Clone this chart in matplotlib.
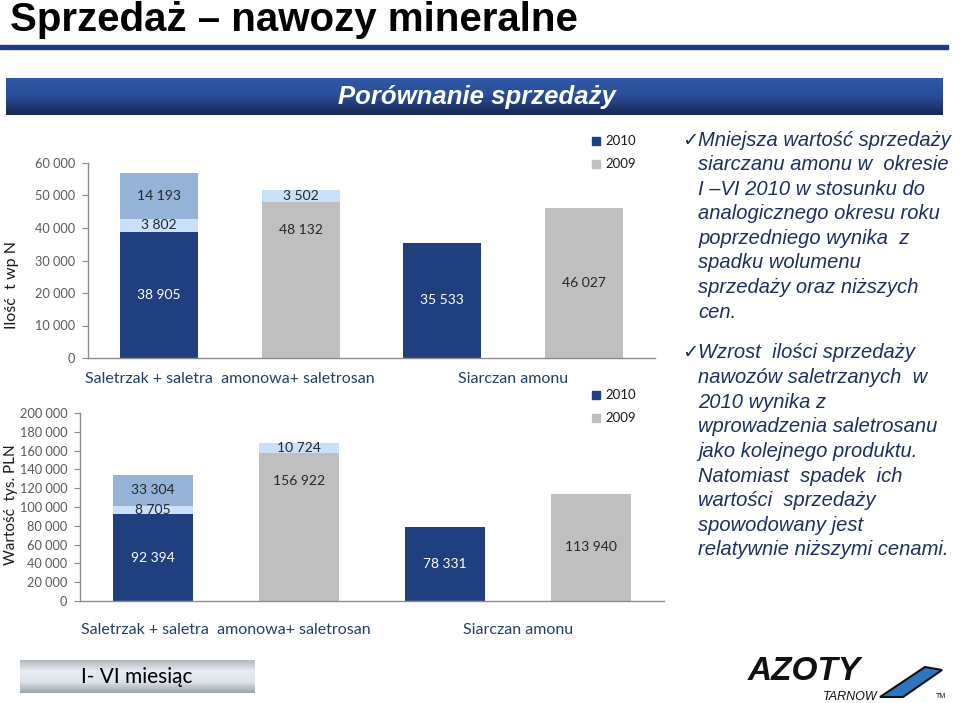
import numpy as np
import matplotlib.pyplot as plt
from matplotlib.patches import Rectangle, Polygon
from matplotlib.colors import LinearSegmentedColormap
from matplotlib.ticker import FuncFormatter, MultipleLocator

# kategorie i lata
kategorie = ['Saletrzak + saletra  amonowa+ saletrosan', 'Siarczan amonu']
lata = ['2010', '2009']

# słupki: saletrzak 2010, saletrzak 2009, siarczan 2010, siarczan 2009
ilosc_baza = [38905, 48132, 35533, 46027]
ilosc_dodatek = [3802, 3502, 0, 0]
ilosc_saletrosan = [14193, 0, 0, 0]

wartosc_baza = [92394, 156922, 78331, 113940]
wartosc_dodatek = [8705, 10724, 0, 0]
wartosc_saletrosan = [33304, 0, 0, 0]

tekst_1 = ['Mniejsza wartość sprzedaży', 'siarczanu amonu w  okresie',
           'I –VI 2010 w stosunku do', 'analogicznego okresu roku',
           'poprzedniego wynika  z', 'spadku wolumenu',
           'sprzedaży oraz niższych', 'cen.']
tekst_2 = ['Wzrost  ilości sprzedaży', 'nawozów saletrzanych  w',
           '2010 wynika z', 'wprowadzenia saletrosanu',
           'jako kolejnego produktu.', 'Natomiast  spadek  ich',
           'wartości  sprzedaży', 'spowodowany jest',
           'relatywnie niższymi cenami.']

GRANAT = '#1F3F7F'
SZARY = '#BFBFBF'
JASNY = '#C9E1F8'
SREDNI = '#95B3D7'
TEKST = '#1C2F5E'
SANS = ['Lato', 'DejaVu Sans']
ARIAL = ['Liberation Sans', 'DejaVu Sans']

fig = plt.figure(figsize=(9.6, 7.03), dpi=100)
bg = fig.add_axes([0, 0, 1, 1])
bg.set_xlim(0, 960)
bg.set_ylim(703, 0)
bg.axis('off')

# tytuł
bg.text(10, 20, 'Sprzedaż – nawozy mineralne', fontsize=29, fontweight='bold',
        family=ARIAL, va='center', ha='left', color='black')
bg.add_patch(Rectangle((0, 45), 948, 4, color='#1F3A8A'))

# pasek nagłówka
cm_bar = LinearSegmentedColormap.from_list('bar', ['#3059A8', '#2A4C96', '#17274F'])
grad = np.linspace(0, 1, 64).reshape(-1, 1)
bg.imshow(grad, extent=(6, 943, 115, 78), aspect='auto', cmap=cm_bar, zorder=1)
bg.text(477, 97, 'Porównanie sprzedaży', color='white', fontsize=18.5,
        fontstyle='italic', fontweight='bold', family=ARIAL,
        ha='center', va='center', zorder=2)

# tekst po prawej
for lines, y0 in [(tekst_1, 140), (tekst_2, 353)]:
    bg.text(682, y0, '✓', fontsize=14, color=TEKST, family=['DejaVu Sans'],
            ha='left', va='center', fontweight='bold')
    for i, line in enumerate(lines):
        bg.text(698, y0 + i * 24.6, line, fontsize=14.5, fontstyle='italic',
                family=ARIAL, color=TEKST, ha='left', va='center')

# etykiety osi
bg.text(12, 285, 'Ilość  t wp N', rotation=90, fontsize=11.5, family=SANS,
        color='#1a1a1a', ha='center', va='center')
bg.text(11, 505, 'Wartość  tys. PLN', rotation=90, fontsize=11, family=SANS,
        color='#1a1a1a', ha='center', va='center')

# legendy
for y0 in [141, 395]:
    for j, (lab, col) in enumerate(zip(lata, [GRANAT, SZARY])):
        yy = y0 + j * 22.5
        bg.add_patch(Rectangle((592, yy - 4), 8, 8, color=col))
        bg.text(605, yy, lab, fontsize=9.5, family=SANS, color='#1a1a1a',
                ha='left', va='center')

# pole "I- VI miesiąc"
cm_box = LinearSegmentedColormap.from_list('box', ['#B4B9BF', '#E6ECF2', '#DCE3EA', '#9EA4AA'])
bg.imshow(grad, extent=(20, 255, 693, 660), aspect='auto', cmap=cm_box, zorder=1)
bg.text(137, 677, 'I- VI miesiąc', fontsize=15, family=SANS, color='black',
        ha='center', va='center', zorder=2)

# logo
bg.text(748, 672, 'AZOTY', fontsize=24, fontweight='bold', fontstyle='italic',
        family=ARIAL, color='#111111', ha='left', va='center')
bg.text(878, 697, 'TARNOW', fontsize=9, fontstyle='italic', family=ARIAL,
        color='#111111', ha='right', va='center')
bg.add_patch(Polygon([(880, 697), (925, 667), (942, 670), (903, 697)],
                     closed=True, facecolor='#2E75C0', edgecolor='#111111', lw=1.5))
bg.text(936, 696, 'TM', fontsize=5, family=ARIAL, color='#111111', va='center')


def fmt(v, p):
    return f'{int(v):,}'.replace(',', ' ')


def draw_chart(ax, baza, dodatek, saletrosan, ymax, step, cat_y):
    x = np.arange(len(baza))
    kolory = [GRANAT, SZARY, GRANAT, SZARY]
    w = 0.55
    ax.bar(x, baza, width=w, color=kolory, zorder=2)
    ax.bar(x, dodatek, width=w, bottom=baza, color=JASNY, zorder=2)
    ax.bar(x, saletrosan, width=w, bottom=np.add(baza, dodatek), color=SREDNI, zorder=2)
    fs = 10
    for i in x:
        kol = 'white' if kolory[i] == GRANAT else '#262626'
        if dodatek[i] > 0 and saletrosan[i] == 0:
            ax.annotate(fmt(baza[i], None), (i, baza[i]), xytext=(0, -28),
                        textcoords='offset pixels', ha='center', va='center',
                        fontsize=fs, family=SANS, color=kol, zorder=3)
        else:
            ax.text(i, baza[i] / 2, fmt(baza[i], None), ha='center', va='center',
                    fontsize=fs, family=SANS, color=kol, zorder=3)
        if dodatek[i] > 0:
            ax.text(i, baza[i] + dodatek[i] / 2, fmt(dodatek[i], None), ha='center',
                    va='center', fontsize=fs, family=SANS, color='#262626', zorder=3)
        if saletrosan[i] > 0:
            ax.text(i, baza[i] + dodatek[i] + saletrosan[i] / 2, fmt(saletrosan[i], None),
                    ha='center', va='center', fontsize=fs, family=SANS,
                    color='#262626', zorder=3)
    ax.set_xlim(-0.5, 3.5)
    ax.set_ylim(0, ymax)
    ax.yaxis.set_major_locator(MultipleLocator(step))
    ax.yaxis.set_major_formatter(FuncFormatter(fmt))
    ax.set_xticks([])
    for s in ['top', 'right']:
        ax.spines[s].set_visible(False)
    for s in ['left', 'bottom']:
        ax.spines[s].set_color('#8C8C8C')
        ax.spines[s].set_linewidth(1)
    ax.tick_params(axis='y', length=4, color='#8C8C8C', labelcolor='#595959',
                   labelsize=9.2, pad=5)
    for lab in ax.get_yticklabels():
        lab.set_family(SANS)
    ax.set_facecolor('none')
    for k, kat in enumerate(kategorie):
        ax.text(2 * k + 0.5, cat_y, kat, transform=ax.get_xaxis_transform(),
                ha='center', va='center', fontsize=11.5, family=SANS, color='#243F66')


ax1 = fig.add_axes([88 / 960, 1 - 358 / 703, 567 / 960, 195 / 703])
draw_chart(ax1, ilosc_baza, ilosc_dodatek, ilosc_saletrosan, 60000, 10000, -0.11)

ax2 = fig.add_axes([80 / 960, 1 - 601 / 703, 584 / 960, 188 / 703])
draw_chart(ax2, wartosc_baza, wartosc_dodatek, wartosc_saletrosan, 200000, 20000, -0.155)

fig.savefig('out.png', dpi=100)
